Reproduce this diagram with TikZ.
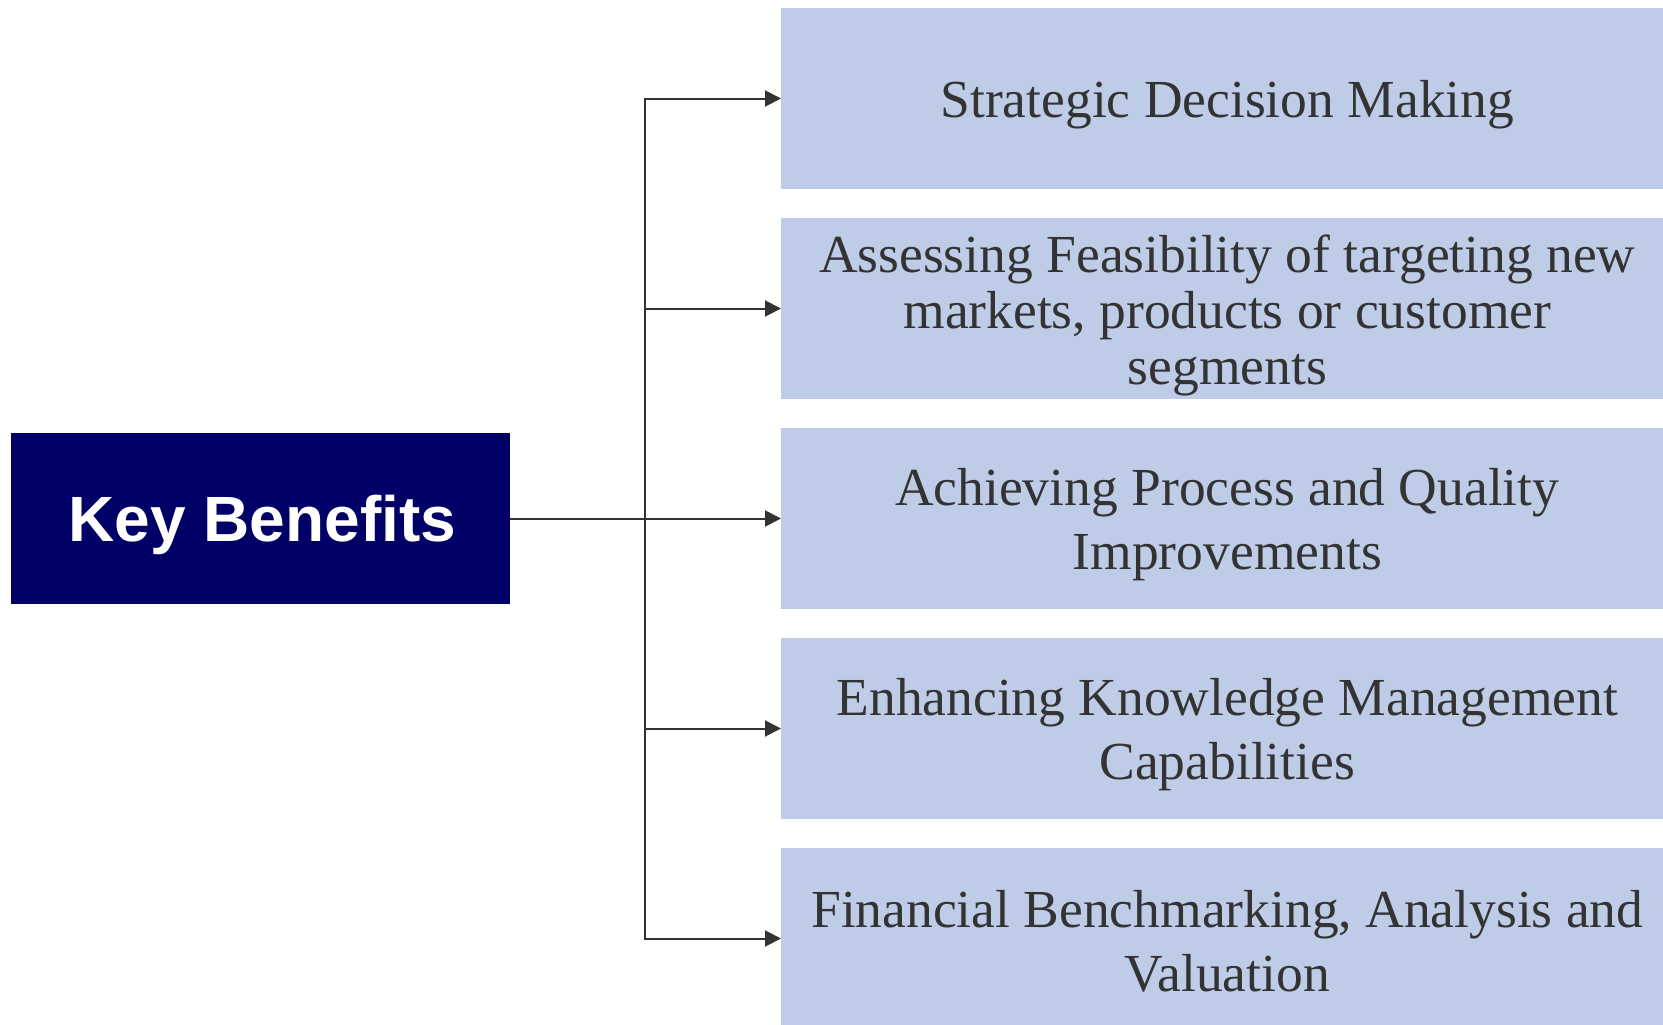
\documentclass[tikz,border=0pt]{standalone}
\usepackage{fontspec}
\setmainfont{Liberation Serif}
\newfontfamily\arialfont{Liberation Sans}
\usetikzlibrary{arrows.meta}
\definecolor{navy}{RGB}{0,0,102}
\definecolor{boxblue}{RGB}{190,204,232}
\definecolor{txtgray}{RGB}{51,51,51}
\definecolor{linegray}{RGB}{51,51,51}
\begin{document}
\begin{tikzpicture}[x=1pt,y=-1pt,
  benefit/.style={fill=boxblue, minimum width=882pt, minimum height=181pt,
    inner sep=0pt, outer sep=0pt},
  btext/.style={inner sep=0pt, text=txtgray, align=center,
    font=\fontsize{53.5}{64}\selectfont, xshift=5.3pt, yshift=-6.5pt},
  keybox/.style={fill=navy, minimum width=499.4pt, minimum height=170.5pt,
    inner sep=0pt, outer sep=0pt},
  keytext/.style={inner sep=0pt, text=white, xshift=2pt, yshift=-6.5pt,
    font=\arialfont\bfseries\fontsize{64}{76}\selectfont},
  conn/.style={draw=linegray, line width=2pt},
  arr/.style={conn, -{Triangle[length=16pt,width=16pt]}}]
\useasboundingbox[fill=white] (0,0) rectangle (1663,1025);
\node[keybox] (key) at (260.3,518.5) {};
\node[keytext] (keyt) at (key.center) {Key Benefits};
\node[benefit] (b1) at (1222,98.5) {};
\node[benefit] (b2) at (1222,308.5) {};
\node[benefit] (b3) at (1222,518.5) {};
\node[benefit] (b4) at (1222,728.5) {};
\node[benefit] (b5) at (1222,938.5) {};
\node[btext] (t1) at (b1.center) {Strategic Decision Making};
\node[btext, font=\fontsize{53.5}{56}\selectfont] (t2) at (b2.center) {Assessing Feasibility of targeting new\\markets, products or customer\\segments};
\node[btext] (t3) at (b3.center) {Achieving Process and Quality\\Improvements};
\node[btext] (t4) at (b4.center) {Enhancing Knowledge Management\\Capabilities};
\node[btext, yshift=4pt] (t5) at (b5.center) {Financial Benchmarking, Analysis and\\Valuation};
\coordinate (j) at (645,518.5);
\draw[arr] (key.east) -- (b3.west);
\draw[arr] (j) |- (b1.west);
\draw[arr] (j) |- (b5.west);
\draw[arr] (b2.west -| j) -- (b2.west);
\draw[arr] (b4.west -| j) -- (b4.west);
\end{tikzpicture}
\end{document}
